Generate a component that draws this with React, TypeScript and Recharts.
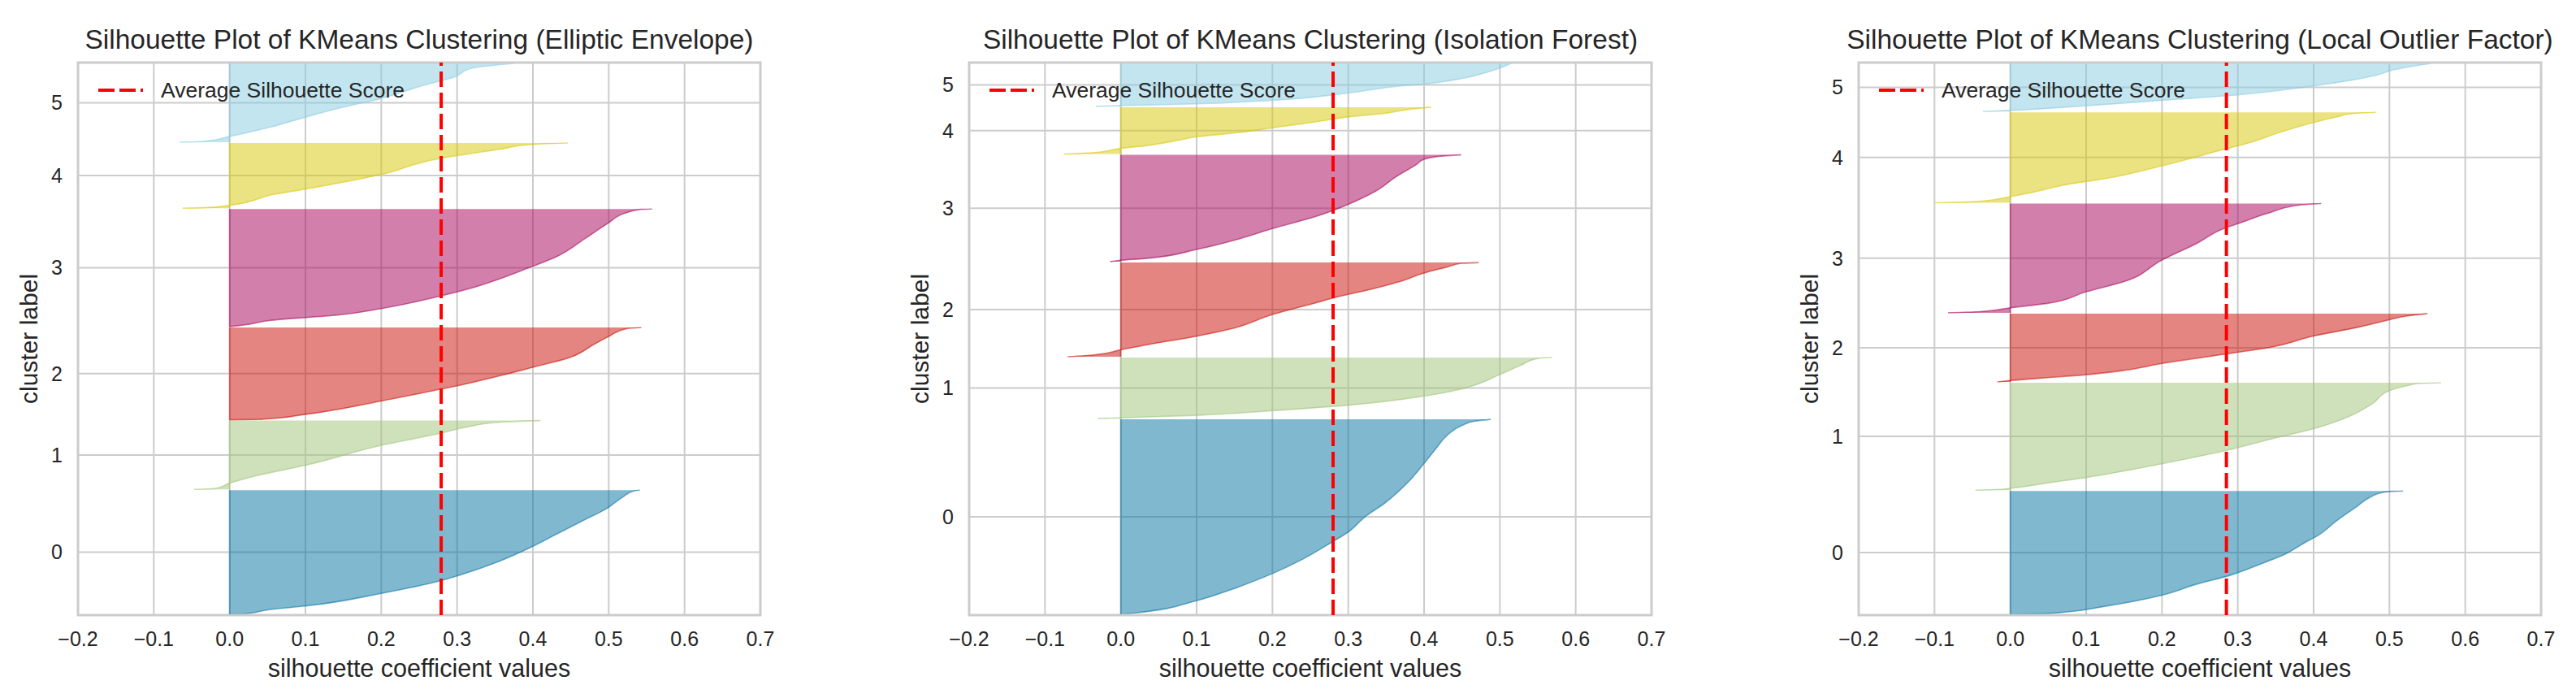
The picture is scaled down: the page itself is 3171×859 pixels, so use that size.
import React from 'react';
import { ComposedChart, Area, XAxis, YAxis, CartesianGrid, ReferenceLine, ReferenceArea } from 'recharts';

const COLORS = ['#0272a2', '#9fc377', '#ca0b03', '#a50258', '#d7c703', '#88cce1'];
const xTicks = [-0.2, -0.1, 0, 0.1, 0.2, 0.3, 0.4, 0.5, 0.6, 0.7];
const clusterLabels = ['0', '1', '2', '3', '4', '5'];
const GAP = 10;

// ---- Elliptic Envelope ----
const eeSizes = [1528, 846, 1136, 1448, 802, 970];
const eeAvg = 0.279;
const ee0 = [[0, 0.0], [0.005, 0.02], [0.038, 0.052], [0.067, 0.1], [0.169, 0.2], [0.271, 0.279], [0.315, 0.303], [0.431, 0.357], [0.548, 0.4], [0.636, 0.428], [0.767, 0.47], [0.84, 0.494], [0.942, 0.518], [0.994, 0.533], [1, 0.541]];
const ee1 = [[0, -0.047], [0.01, -0.02], [0.09, 0.0], [0.195, 0.034], [0.35, 0.1], [0.64, 0.2], [0.82, 0.28], [0.9, 0.31], [0.98, 0.36], [1, 0.41]];
const ee2 = [[0, 0.0], [0.004, 0.04], [0.059, 0.1], [0.204, 0.2], [0.333, 0.279], [0.373, 0.303], [0.478, 0.357], [0.569, 0.4], [0.667, 0.446], [0.824, 0.482], [0.902, 0.5], [0.988, 0.524], [1, 0.543]];
const ee3 = [[0, 0.0], [0.02, 0.025], [0.052, 0.052], [0.098, 0.142], [0.154, 0.2], [0.262, 0.279], [0.3, 0.303], [0.514, 0.4], [0.585, 0.428], [0.754, 0.47], [0.883, 0.5], [0.963, 0.521], [0.997, 0.542], [1, 0.557]];
const ee4 = [[0, -0.062], [0.01, -0.03], [0.044, 0.0], [0.211, 0.058], [0.294, 0.1], [0.517, 0.2], [0.767, 0.279], [0.822, 0.309], [0.906, 0.357], [0.978, 0.398], [1, 0.446]];
const ee5 = [[0, -0.066], [0.01, -0.035], [0.073, 0.0], [0.188, 0.052], [0.326, 0.103], [0.44, 0.148], [0.555, 0.2], [0.72, 0.255], [0.83, 0.297], [0.94, 0.32], [1, 0.375]];

// ---- Isolation Forest ----
const ifSizes = [2399, 751, 1159, 1315, 577, 529];
const ifAvg = 0.28;
const if0 = [[0, 0.0], [0.005, 0.014], [0.07, 0.1], [0.126, 0.145], [0.209, 0.2], [0.283, 0.24], [0.367, 0.277], [0.422, 0.3], [0.506, 0.324], [0.57, 0.348], [0.674, 0.378], [0.774, 0.4], [0.857, 0.417], [0.92, 0.431], [0.967, 0.449], [0.991, 0.467], [1, 0.488]];
const if1 = [[0, -0.03], [0.012, 0.0], [0.053, 0.1], [0.13, 0.2], [0.219, 0.3], [0.367, 0.4], [0.485, 0.449], [0.722, 0.5], [0.87, 0.527], [0.988, 0.551], [1, 0.569]];
const if2 = [[0, -0.07], [0.02, -0.035], [0.073, 0.0], [0.123, 0.032], [0.218, 0.1], [0.295, 0.145], [0.448, 0.2], [0.563, 0.253], [0.64, 0.288], [0.716, 0.33], [0.793, 0.366], [0.889, 0.4], [0.954, 0.431], [0.992, 0.449], [1, 0.472]];
const if3 = [[0, -0.014], [0.014, 0.0], [0.03, 0.032], [0.115, 0.1], [0.216, 0.157], [0.31, 0.2], [0.43, 0.26], [0.537, 0.3], [0.66, 0.336], [0.8, 0.364], [0.91, 0.39], [0.959, 0.4], [0.99, 0.425], [1, 0.449]];
const if4 = [[0, -0.075], [0.03, -0.035], [0.123, 0.0], [0.177, 0.032], [0.29, 0.074], [0.369, 0.1], [0.462, 0.157], [0.562, 0.2], [0.677, 0.253], [0.792, 0.3], [0.869, 0.348], [0.962, 0.384], [1, 0.409]];
const if5 = [[0, -0.033], [0.017, 0.0], [0.059, 0.1], [0.143, 0.2], [0.311, 0.3], [0.479, 0.372], [0.521, 0.4], [0.647, 0.449], [0.773, 0.479], [1, 0.515]];

// ---- Local Outlier Factor ----
const lofSizes = [1518, 1322, 841, 1344, 1113, 592];
const lofAvg = 0.285;
const lof0 = [[0, 0.0], [0.004, 0.04], [0.02, 0.075], [0.06, 0.12], [0.155, 0.2], [0.243, 0.245], [0.317, 0.29], [0.405, 0.329], [0.493, 0.364], [0.58, 0.388], [0.64, 0.406], [0.757, 0.43], [0.874, 0.457], [0.947, 0.474], [0.987, 0.49], [0.997, 0.505], [1, 0.518]];
const lof1 = [[0, -0.046], [0.005, -0.02], [0.017, 0.0], [0.067, 0.049], [0.118, 0.1], [0.246, 0.2], [0.37, 0.285], [0.471, 0.341], [0.572, 0.4], [0.69, 0.448], [0.808, 0.478], [0.926, 0.5], [0.975, 0.525], [0.993, 0.537], [1, 0.568]];
const lof2 = [[0, -0.017], [0.021, 0.0], [0.063, 0.049], [0.106, 0.1], [0.169, 0.15], [0.27, 0.2], [0.434, 0.3], [0.503, 0.341], [0.672, 0.4], [0.804, 0.46], [0.91, 0.5], [0.963, 0.522], [1, 0.55]];
const lof3 = [[0, -0.082], [0.01, -0.04], [0.046, 0.0], [0.086, 0.049], [0.192, 0.1], [0.285, 0.15], [0.483, 0.2], [0.632, 0.245], [0.781, 0.285], [0.815, 0.3], [0.914, 0.341], [0.987, 0.382], [1, 0.41]];
const lof4 = [[0, -0.099], [0.01, -0.05], [0.068, 0.0], [0.108, 0.025], [0.208, 0.079], [0.268, 0.126], [0.408, 0.2], [0.588, 0.281], [0.668, 0.317], [0.788, 0.359], [0.888, 0.4], [0.948, 0.43], [0.988, 0.454], [1, 0.482]];
const lof5 = [[0, -0.036], [0.023, 0.0], [0.12, 0.1], [0.233, 0.2], [0.346, 0.3], [0.534, 0.4], [0.647, 0.448], [0.759, 0.484], [0.872, 0.507], [1, 0.555]];

const FONT = '"Liberation Sans", Arial, sans-serif';
const TEXT = '#262626';
const GRID = '#cccccc';

const CH_W = 1000;
const CH_H = 859;
const M_TOP = 77;
const M_RIGHT = 64;
const Y_W = 96;
const X_H = 102;
const PLOT_W = CH_W - Y_W - M_RIGHT;
const PLOT_H = CH_H - M_TOP - X_H;

type Profile = number[][];

function fmtX(v: number) {
  const s = Math.abs(v).toFixed(1);
  return v < -1e-9 ? '\u2212' + s : s;
}

function Panel({ title, sizes, profiles, avg, left }: { title: string; sizes: number[]; profiles: Profile[]; avg: number; left: number }) {
  // silhouette layout: y_lower starts at 10, 10-sample gap between clusters
  let yl = GAP;
  const bands = sizes.map((s) => {
    const lo = yl;
    yl = lo + s + GAP;
    return { lo, hi: lo + s, mid: lo + s / 2 };
  });
  const yMax = sizes.reduce((a, b) => a + b, 0) + GAP * (sizes.length + 1);
  const rows: any[] = [];
  profiles.forEach((p, i) => {
    p.forEach(([f, v]) => {
      rows.push({ y: bands[i].lo + f * sizes[i], ['c' + i]: v });
    });
  });
  const yTicks = bands.map((b) => b.mid);
  const cx = Y_W + PLOT_W / 2;
  const cy = M_TOP + PLOT_H / 2;
  return (
    <div style={{ position: 'absolute', left, top: 0, width: CH_W, height: CH_H }}>
      <ComposedChart
        width={CH_W}
        height={CH_H}
        data={rows}
        layout="vertical"
        margin={{ top: M_TOP, right: M_RIGHT, bottom: 0, left: 0 }}
        style={{ fontFamily: FONT }}
      >
        <CartesianGrid stroke={GRID} strokeWidth={2} />
        <XAxis
          type="number"
          domain={[-0.2, 0.7]}
          ticks={xTicks}
          interval={0}
          allowDataOverflow
          height={X_H}
          axisLine={false}
          tickLine={false}
          tickSize={0}
          tickMargin={20}
          tickFormatter={fmtX}
          tick={{ fontSize: 25, fill: TEXT, fontFamily: FONT }}
        />
        <YAxis
          type="number"
          dataKey="y"
          domain={[0, yMax]}
          reversed
          ticks={yTicks}
          interval={0}
          allowDataOverflow
          width={Y_W}
          axisLine={false}
          tickLine={false}
          tickSize={0}
          tickMargin={19}
          tickFormatter={(_v: number, i: number) => clusterLabels[i]}
          tick={{ fontSize: 25, fill: TEXT, fontFamily: FONT }}
        />
        {profiles.map((_, i) => (
          <Area
            key={'a' + i}
            dataKey={'c' + i}
            type="monotone"
            baseValue={0}
            fill={COLORS[i]}
            fillOpacity={0.5}
            stroke={COLORS[i]}
            strokeOpacity={0.55}
            strokeWidth={1.6}
            dot={false}
            activeDot={false}
            isAnimationActive={false}
          />
        ))}
        {bands.map((b, i) => (
          <ReferenceLine
            key={'b' + i}
            segment={[{ x: 0, y: b.lo }, { x: 0, y: b.hi }]}
            stroke={COLORS[i]}
            strokeOpacity={0.5}
            strokeWidth={1.6}
          />
        ))}
        <ReferenceLine
          segment={[{ x: avg, y: 0 }, { x: avg, y: yMax }]}
          stroke="#ff0000"
          strokeWidth={4}
          strokeDasharray="19 7"
        />
        <ReferenceArea x1={-0.2} x2={0.7} y1={0} y2={yMax} fill="none" fillOpacity={0} stroke={GRID} strokeWidth={3} ifOverflow="visible" />
      </ComposedChart>
      <svg
        width={CH_W}
        height={CH_H}
        style={{ position: 'absolute', left: 0, top: 0, pointerEvents: 'none' }}
        fontFamily={FONT}
      >
        <text x={cx} y={60} textAnchor="middle" fontSize={33.5} fill={TEXT}>{title}</text>
        <text x={cx} y={833} textAnchor="middle" fontSize={30.5} fill={TEXT}>silhouette coefficient values</text>
        <text x={46} y={cy} textAnchor="middle" fontSize={30} fill={TEXT} transform={`rotate(-90 46 ${cy})`}>cluster label</text>
        <line x1={Y_W + 25} y1={111} x2={Y_W + 80} y2={111} stroke="#ff0000" strokeWidth={4} strokeDasharray="20 6" />
        <text x={Y_W + 102} y={120} fontSize={26.5} fill={TEXT}>Average Silhouette Score</text>
      </svg>
    </div>
  );
}

export default function App() {
  return (
    <div style={{ position: 'absolute', left: 0, top: 0, width: 3171, height: 859, background: '#ffffff', overflow: 'hidden' }}>
      <Panel title="Silhouette Plot of KMeans Clustering (Elliptic Envelope)" sizes={eeSizes} profiles={[ee0, ee1, ee2, ee3, ee4, ee5]} avg={eeAvg} left={0} />
      <Panel title="Silhouette Plot of KMeans Clustering (Isolation Forest)" sizes={ifSizes} profiles={[if0, if1, if2, if3, if4, if5]} avg={ifAvg} left={1097} />
      <Panel title="Silhouette Plot of KMeans Clustering (Local Outlier Factor)" sizes={lofSizes} profiles={[lof0, lof1, lof2, lof3, lof4, lof5]} avg={lofAvg} left={2192} />
    </div>
  );
}
